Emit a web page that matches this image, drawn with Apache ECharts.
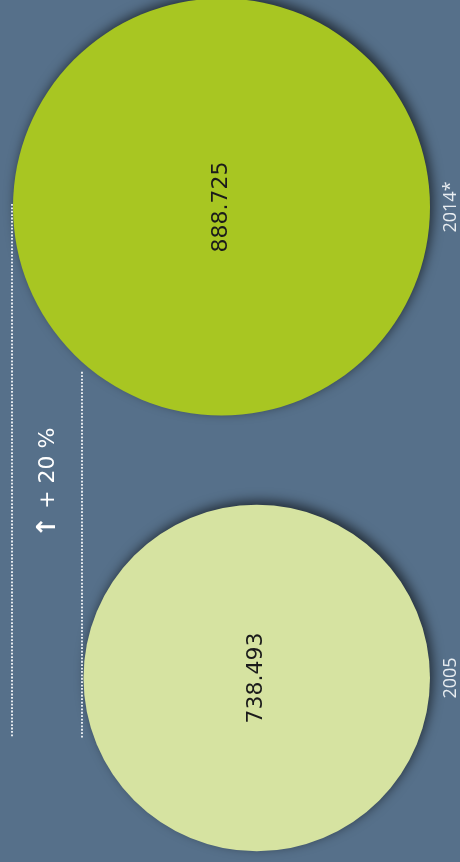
<!DOCTYPE html>
<html><head><meta charset="utf-8">
<style>html,body{margin:0;padding:0;background:#56708a;}#c{width:460px;height:862px;}</style>
<script src="https://cdn.jsdelivr.net/npm/echarts@6/dist/echarts.min.js"></script>
</head><body><div id="c"></div>
<script>
const years = ['2005', '2014*'];
const values = [738.493, 888.725];
const valueLabels = ['738.493', '888.725'];
const changeArrow = '\u2191';
const changeLabel = ' + 20 %';
const colors = ['#d6e3a1', '#a8c622'];

const chart = echarts.init(document.getElementById('c'), null, {renderer: 'canvas'});
chart.setOption({
  backgroundColor: '#56708a',
  animation: false,
  grid: {left: 13, right: 30, top: 207, bottom: 184},
  xAxis: {type: 'value', inverse: true, min: 0, max: Math.max.apply(null, values), show: false},
  yAxis: {
    type: 'category', data: years, boundaryGap: false, position: 'right',
    axisLine: {show: false}, axisTick: {show: false}, splitLine: {show: false},
    axisLabel: {rotate: 90, margin: 12, color: '#e8edf1', fontFamily: 'Open Sans', fontSize: 18}
  },
  series: [
    {
      type: 'custom',
      data: values.map((v, i) => [v, i]),
      renderItem: function (params, api) {
        const v = api.value(0), c = api.value(1);
        const d = api.size([v, 0])[0];
        const p = api.coord([v / 2, c]);
        return {type: 'group', children: [
          {type: 'circle', shape: {cx: p[0], cy: p[1], r: d / 2},
           style: {fill: colors[params.dataIndex], shadowBlur: 12, shadowColor: 'rgba(0,0,0,0.6)', shadowOffsetX: 3, shadowOffsetY: -4}},
          {type: 'text', x: p[0], y: p[1], rotation: Math.PI / 2,
           style: {text: valueLabels[params.dataIndex], fontSize: 22, fontFamily: 'DejaVu Sans', fill: '#1b1b1b', align: 'center', verticalAlign: 'middle'}}
        ]};
      }
    },
    {
      type: 'custom',
      data: [[0]],
      renderItem: function (params, api) {
        const yTop = api.coord([0, 1])[1];
        const yBot = api.coord([0, 0])[1];
        const span = yBot - yTop;
        const xBig = api.coord([values[1], 0])[0] - 1;
        const xSmall = api.coord([values[0], 0])[0] - 1.5;
        const yEnd = yBot + span * 0.127;
        const ySmallTop = yTop + span * 0.35;
        const lineStyle = {stroke: '#ffffff', lineWidth: 1.8, lineDash: [1.8, 1.6], opacity: 0.95};
        return {type: 'group', children: [
          {type: 'line', shape: {x1: xBig, y1: yTop - 3, x2: xBig, y2: yEnd}, style: lineStyle},
          {type: 'line', shape: {x1: xSmall, y1: ySmallTop, x2: xSmall, y2: yEnd}, style: lineStyle},
          {type: 'text', x: (xBig + xSmall) / 2 + 1, y: yTop + span * 0.585, rotation: Math.PI / 2,
           style: {
             text: '{a|' + changeArrow + '}{b|' + changeLabel + '}',
             align: 'center', verticalAlign: 'middle',
             rich: {
               a: {fontSize: 26, fontWeight: 'bold', fontFamily: 'DejaVu Sans', fill: '#ffffff', color: '#ffffff'},
               b: {fontSize: 22, fontFamily: 'DejaVu Sans', fill: '#ffffff', color: '#ffffff'}
             }
           }}
        ]};
      }
    }
  ]
});
</script></body></html>
